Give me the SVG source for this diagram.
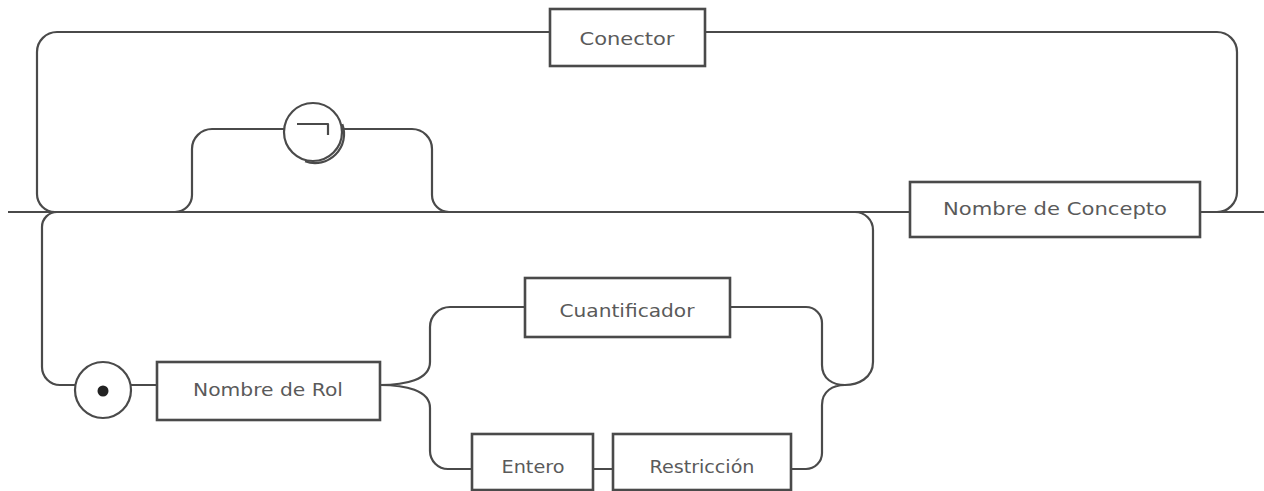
<svg xmlns="http://www.w3.org/2000/svg" width="1264" height="491" viewBox="0 0 1264 491">
<style>
.rail{fill:none;stroke:#4a4a4a;stroke-width:2.2;stroke-linejoin:round}
.box{fill:#fff;stroke:#4a4a4a;stroke-width:2.6}
.lbl{font-family:"DejaVu Sans","Liberation Sans",sans-serif;font-size:17px;fill:#5a5a5a;text-anchor:middle}
.circ{fill:#fff;stroke:#4a4a4a;stroke-width:2.2}
</style>
<rect width="1264" height="491" fill="#fff"/>
<g id="connectors">
<path class="rail" d="M8,212 H910 M1200,212 H1264"/>
<path class="rail" d="M55,212 A18,18 0 0 1 37,194 V52 A20,20 0 0 1 57,32 H550 M705,32 H1217 A20,20 0 0 1 1237,52 V192 A20,20 0 0 1 1217,212"/>
<path class="rail" d="M175,212 A17,17 0 0 0 192,195 V149 A20,20 0 0 1 212,129 H284 M342,129 H412 A20,20 0 0 1 432,149 V195 A17,17 0 0 0 449,212"/>
<path class="rail" d="M57,212 A15,15 0 0 0 42,227 V367 A18,18 0 0 0 60,385 H76 M131,385 H157"/>
<path class="rail" d="M380,385 C405,385 430,380 430,362 V327 A20,20 0 0 1 450,307 H525 M380,385 C405,385 430,390 430,408 V451 A18,18 0 0 0 448,469 H472"/>
<path class="rail" d="M593,469 H613 M791,469 H806 A16,16 0 0 0 822,453 V405 C822,391 833,385 845,385 M730,307 H806 A16,16 0 0 1 822,323 V365 C822,379 833,385 845,385 C858,385 873,378 873,362 V230 A18,18 0 0 0 855,212"/>
</g>
<g id="conector">
<rect class="box" x="550" y="9" width="155" height="57"/>
<text class="lbl" x="627" y="45" textLength="95" lengthAdjust="spacingAndGlyphs">Conector</text>
</g>
<g id="negacion">
<circle class="circ" cx="313" cy="132" r="29"/>
<path class="rail" d="M342.3,124.1 A29,29 0 0 1 305.1,161.3"/>
<path class="rail" d="M297,124 H328 V135"/>
</g>
<g id="nombre-concepto">
<rect class="box" x="910" y="182" width="290" height="55"/>
<text class="lbl" x="1055" y="215" textLength="224" lengthAdjust="spacingAndGlyphs">Nombre de Concepto</text>
</g>
<g id="punto">
<circle class="circ" cx="103" cy="390" r="28"/>
<circle cx="103" cy="391" r="5.5" fill="#222"/>
</g>
<g id="nombre-rol">
<rect class="box" x="157" y="362" width="223" height="58"/>
<text class="lbl" x="268" y="396" textLength="150" lengthAdjust="spacingAndGlyphs">Nombre de Rol</text>
</g>
<g id="cuantificador">
<rect class="box" x="525" y="278" width="205" height="59"/>
<text class="lbl" x="627" y="317" textLength="135" lengthAdjust="spacingAndGlyphs">Cuantificador</text>
</g>
<g id="entero">
<rect class="box" x="472" y="434" width="121" height="56"/>
<text class="lbl" x="533" y="473" textLength="63" lengthAdjust="spacingAndGlyphs">Entero</text>
</g>
<g id="restriccion">
<rect class="box" x="613" y="434" width="178" height="56"/>
<text class="lbl" x="702" y="473" textLength="105" lengthAdjust="spacingAndGlyphs">Restricción</text>
</g>
</svg>
